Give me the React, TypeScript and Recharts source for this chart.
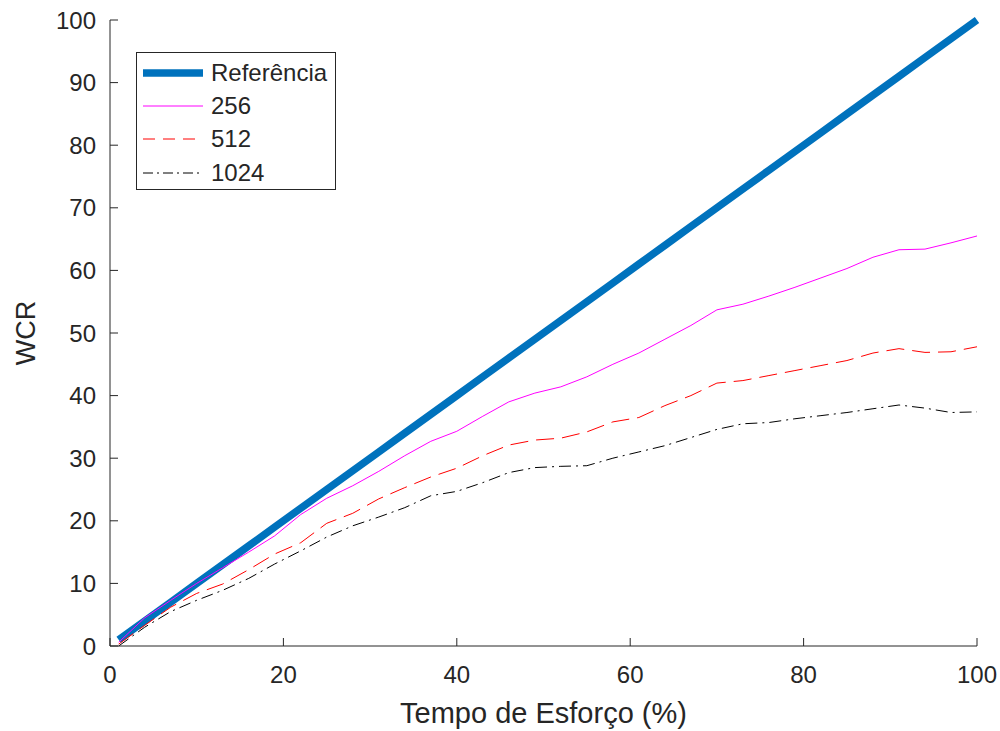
import { LineChart, Line, XAxis, YAxis, Legend, Label } from "recharts";

const xValues = [1, 4, 7, 10, 13, 16, 19, 22, 25, 28, 31, 34, 37, 40, 43, 46, 49, 52, 55, 58, 61, 64, 67, 70, 73, 76, 79, 82, 85, 88, 91, 94, 97, 100];
const refValues = [1, 4, 7, 10, 13, 16, 19, 22, 25, 28, 31, 34, 37, 40, 43, 46, 49, 52, 55, 58, 61, 64, 67, 70, 73, 76, 79, 82, 85, 88, 91, 94, 97, 100];
const s256 = [0.6, 4.5, 7.3, 10.0, 12.5, 15.0, 17.6, 21.0, 23.6, 25.6, 27.9, 30.4, 32.7, 34.3, 36.7, 39.0, 40.4, 41.4, 43.0, 45.0, 46.8, 49.0, 51.2, 53.7, 54.6, 55.9, 57.3, 58.8, 60.3, 62.1, 63.3, 63.4, 64.4, 65.5];
const s512 = [0.3, 3.3, 6.2, 8.4, 9.9, 12.2, 14.7, 16.5, 19.6, 21.2, 23.5, 25.3, 27.0, 28.4, 30.4, 32.1, 32.9, 33.2, 34.2, 35.8, 36.5, 38.4, 40.0, 42.0, 42.4, 43.2, 44.0, 44.8, 45.6, 46.8, 47.5, 46.9, 47.0, 47.8];
const s1024 = [0, 3.0, 5.5, 7.3, 8.9, 10.8, 13.1, 15.2, 17.4, 19.2, 20.6, 22.1, 24.0, 24.7, 26.1, 27.7, 28.5, 28.7, 28.8, 30.0, 31.0, 32.0, 33.3, 34.6, 35.5, 35.7, 36.3, 36.8, 37.3, 37.9, 38.5, 38.0, 37.3, 37.4];

const xTicks = [0, 20, 40, 60, 80, 100];
const yTicks = [0, 10, 20, 30, 40, 50, 60, 70, 80, 90, 100];

const data = xValues.map((x, i) => ({
  x,
  ref: refValues[i],
  s256: s256[i],
  s512: s512[i],
  s1024: s1024[i],
}));

const series = [
  { key: "ref", name: "Referência", color: "#0072BD", width: 7.5, dash: undefined, legendDash: undefined },
  { key: "s256", name: "256", color: "#FF00FF", width: 1, dash: undefined, legendDash: undefined },
  { key: "s512", name: "512", color: "#FF0000", width: 1, dash: "18 8", legendDash: "12 8" },
  { key: "s1024", name: "1024", color: "#000000", width: 1, dash: "12 5 2 5", legendDash: "10 4 2 4" },
];

const FONT = '"Liberation Sans", Arial, Helvetica, sans-serif';
const AXIS = "#262626";

const LegendBox = () => (
  <div
    style={{
      width: 200,
      height: 138,
      boxSizing: "border-box",
      border: `1px solid ${AXIS}`,
      background: "#fff",
      paddingTop: 3,
      fontFamily: FONT,
      fontSize: 24,
      color: AXIS,
    }}
  >
    {series.map((s) => (
      <div key={s.key} style={{ height: 33.3, display: "flex", alignItems: "center" }}>
        <svg width={74} height={20} style={{ flex: "none" }}>
          <line
            x1={6}
            x2={66}
            y1={10}
            y2={10}
            stroke={s.color}
            strokeWidth={s.width}
            strokeDasharray={s.legendDash}
          />
        </svg>
        <span style={{ lineHeight: 1 }}>{s.name}</span>
      </div>
    ))}
  </div>
);

export default function App() {
  return (
    <div style={{ position: "absolute", left: 0, top: 0, background: "#fff" }}>
      <LineChart
        width={1000}
        height={731}
        data={data}
        margin={{ top: 20, right: 23, left: 0, bottom: 0 }}
      >
        <XAxis
          dataKey="x"
          type="number"
          domain={[0, 100]}
          ticks={xTicks}
          height={85}
          stroke={AXIS}
          tickSize={-8}
          tickMargin={28}
          tick={{ fill: AXIS, fontSize: 24, fontFamily: FONT }}
        >
          <Label
            content={({ viewBox }: any) => (
              <text
                x={viewBox.x + viewBox.width / 2}
                y={723}
                textAnchor="middle"
                fill={AXIS}
                fontSize={29}
                fontFamily={FONT}
              >
                Tempo de Esforço (%)
              </text>
            )}
          />
        </XAxis>
        <YAxis
          type="number"
          domain={[0, 100]}
          ticks={yTicks}
          width={110}
          stroke={AXIS}
          tickSize={-8}
          tickMargin={22}
          tick={{ fill: AXIS, fontSize: 24, fontFamily: FONT }}
        >
          <Label
            content={({ viewBox }: any) => (
              <text
                x={25.5}
                y={viewBox.y + viewBox.height / 2}
                transform={`rotate(-90 25.5 ${viewBox.y + viewBox.height / 2})`}
                textAnchor="middle"
                dominantBaseline="central"
                fill={AXIS}
                fontSize={27}
                fontFamily={FONT}
              >
                WCR
              </text>
            )}
          />
        </YAxis>
        <Legend
          layout="vertical"
          align="center"
          verticalAlign="middle"
          content={() => <LegendBox />}
          wrapperStyle={{ left: 136, top: 52, width: 200, height: 138 }}
        />
        {series.map((s) => (
          <Line
            key={s.key}
            type="linear"
            dataKey={s.key}
            name={s.name}
            stroke={s.color}
            strokeWidth={s.width}
            strokeDasharray={s.dash}
            dot={false}
            activeDot={false}
            isAnimationActive={false}
          />
        ))}
      </LineChart>
    </div>
  );
}
